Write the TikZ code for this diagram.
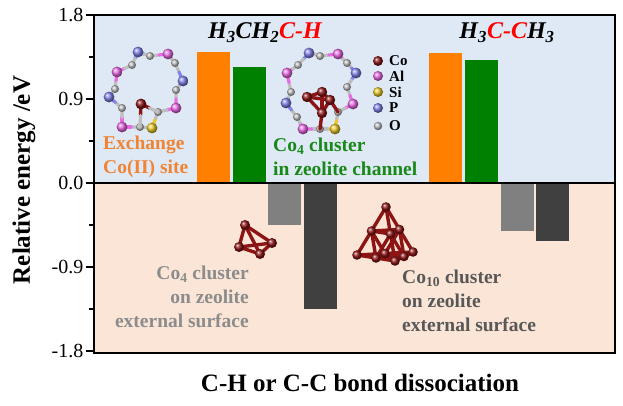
\documentclass[tikz,border=0pt]{standalone}
\usepackage{fontspec}
\setmainfont{Liberation Serif}
\usetikzlibrary{calc}

\definecolor{bgtop}{RGB}{222,233,245}
\definecolor{bgbot}{RGB}{251,229,214}
\definecolor{barorange}{RGB}{255,128,0}
\definecolor{bargreen}{RGB}{0,128,0}
\definecolor{bargray}{RGB}{128,128,128}
\definecolor{bardark}{RGB}{64,64,64}
\definecolor{txtorange}{RGB}{240,132,52}
\definecolor{txtgreen}{RGB}{24,136,24}
\definecolor{txtgray}{RGB}{140,140,140}
\definecolor{txtdark}{RGB}{88,88,88}
\definecolor{atCo}{RGB}{140,20,20}
\definecolor{atAl}{RGB}{235,105,230}
\definecolor{atSi}{RGB}{235,200,40}
\definecolor{atP}{RGB}{130,130,235}
\definecolor{atO}{RGB}{190,190,190}

\tikzset{
  bond/.style={line width=3.2pt, line cap=round},
  cobond/.style={line width=3.4pt, line cap=round, atCo},
}

\begin{document}
\begin{tikzpicture}[x=1pt,y=-1pt,
  ticklbl/.style={font=\fontsize{20}{20}\selectfont, inner sep=2pt},
  title/.style={font=\bfseries\itshape\fontsize{24}{24}\selectfont},
  lbl/.style={font=\bfseries\fontsize{19.5}{24}\selectfont, inner sep=0pt},
  legend/.style={font=\bfseries\fontsize{15}{15}\selectfont, inner sep=0pt},
  axlbl/.style={font=\bfseries\fontsize{25}{25}\selectfont}]
\useasboundingbox (0,0) rectangle (623,406);
\fill[bgtop] (94,15) rectangle (615,183);
\fill[bgbot] (94,183) rectangle (615,353);

\foreach \x/\v/\c in {197/1.40/barorange, 233/1.24/bargreen, 268/-0.45/bargray, 304/-1.35/bardark,
                      429/1.39/barorange, 465/1.32/bargreen, 501/-0.51/bargray, 536/-0.62/bardark}
  \fill[\c] (\x,183) rectangle ++(33,{-93.3*(\v)});

\draw[line width=1.8pt] (94,15) rectangle (615,353);
\draw[line width=1.8pt] (94,183) -- (615,183);
\foreach \v in {-1.8,-0.9,0.0,0.9,1.8}
  \draw[line width=1.4pt] (94,{183-93.3*(\v)}) -- ++(-8,0) node[left, ticklbl] (tick\v) {\v};
\foreach \v in {-1.35,-0.45,0.45,1.35}
  \draw[line width=1.4pt] (94,{183-93.3*(\v)}) -- ++(-5,0);

\node[axlbl, rotate=90] (ylab) at (24,180) {Relative energy /eV};
\node[axlbl] (xlab) at (360,383) {C-H or C-C bond dissociation};

\node[title] (t1) at (265,33) {H\textsubscript{3}CH\textsubscript{2}\textcolor{red}{C-H}};
\node[title] (t2) at (507,33) {H\textsubscript{3}\textcolor{red}{C-C}H\textsubscript{3}};

% zeolite rings
\foreach \x/\y [count=\i] in {138/52,150/56,168/54,175/63,183/81,176/90,176/108,158/112,
                             152/128,140/127,122/127,122/108,109/97,115/89,117/72,132/65}
  \coordinate (a\i) at (\x,\y);
\foreach \x/\y [count=\i] in {309/53,320/56,338/54,347/63,356/73,347/87,353/104,338/112,
                             335/129,320/129,303/129,297/117,286/103,291/92,287/73,298/65}
  \coordinate (b\i) at (\x,\y);
\foreach \r in {a,b}{
  \foreach \i/\c in {1/atP,2/atO,3/atAl,4/atO,5/atP,6/atO,7/atAl,8/atO,
                     9/atSi,10/atO,11/atAl,12/atO,13/atP,14/atO,15/atAl,16/atO}{
    \pgfmathtruncatemacro\nx{mod(\i,16)+1}
    \pgfmathtruncatemacro\pv{mod(\i+14,16)+1}
    \draw[bond,\c] (\r\i) -- ($(\r\i)!.5!(\r\nx)$) (\r\i) -- ($(\r\i)!.5!(\r\pv)$);
  }
  \foreach \i/\c/\s in {1/atP/5.4,2/atO/4,3/atAl/5.4,4/atO/4,5/atP/5.4,6/atO/4,7/atAl/5.4,8/atO/4,
                        9/atSi/5.4,10/atO/4,11/atAl/5.4,12/atO/4,13/atP/5.4,14/atO/4,15/atAl/5.4,16/atO/4}
    \shade[ball color=\c] (\r\i) circle (\s);
}

% Co(II) in ring a
\coordinate (co) at (141,104);
\draw[cobond] (co) -- ($(co)!.5!(a8)$) (co) -- ($(co)!.5!(a10)$);
\draw[bond,atO] (a8) -- ($(co)!.5!(a8)$) (a10) -- ($(co)!.5!(a10)$);
\shade[ball color=atCo] (co) circle (5.4);

% Co4 in ring b
\coordinate (c1) at (307,97);
\coordinate (c2) at (322,92);
\coordinate (c3) at (330,100);
\coordinate (c4) at (322,113);
\draw[cobond] (c4) -- (b10) (c3) -- (b8);
\foreach \u/\w in {c1/c2,c1/c3,c1/c4,c2/c3,c2/c4,c3/c4}
  \draw[cobond] (\u) -- (\w);
\foreach \u in {c1,c2,c3,c4}
  \shade[ball color=atCo] (\u) circle (5.2);

% legend
\foreach \y/\c/\t/\s in {61/atCo/Co/5,76/atAl/Al/5,92/atSi/Si/5,108/atP/P/5,126/atO/O/4.2}{
  \shade[ball color=\c] (378,\y) circle (\s);
  \node[legend, anchor=west] (lg\t) at (389,\y) {\t};
}

% Co4 on external surface
\coordinate (e1) at (245,225);
\coordinate (e2) at (239,247);
\coordinate (e3) at (272,243);
\coordinate (e4) at (260,254);
\foreach \u/\w in {e1/e2,e1/e3,e1/e4,e2/e3,e2/e4,e3/e4}
  \draw[cobond] (\u) -- (\w);
\foreach \u in {e1,e3,e2,e4}
  \shade[ball color=atCo] (\u) circle (5);

% Co10 on external surface
\coordinate (A) at (386,207);
\coordinate (B) at (357,255);
\coordinate (C) at (395,261);
\coordinate (D) at (413,252);
\coordinate (ab) at ($(A)!.5!(B)$);
\coordinate (ac) at ($(A)!.5!(C)$);
\coordinate (ad) at ($(A)!.5!(D)$);
\coordinate (bc) at ($(B)!.5!(C)$);
\coordinate (bd) at ($(B)!.5!(D)$);
\coordinate (cd) at ($(C)!.5!(D)$);
\foreach \u/\w in {A/ab,ab/B,A/ac,ac/C,A/ad,ad/D,B/bc,bc/C,B/bd,bd/D,C/cd,cd/D,
                   ab/ac,ab/ad,ab/bc,ab/bd,ac/ad,ac/bc,ac/cd,ad/bd,ad/cd,bc/bd,bc/cd,bd/cd}
  \draw[cobond] (\u) -- (\w);
\foreach \u in {bd,A,ad,D,ab,B,ac,cd,bc,C}
  \shade[ball color=atCo] (\u) circle (4.8);

\node[lbl, txtorange, align=left, anchor=west] (exch) at (103,157) {Exchange\\Co(II) site};
\node[lbl, txtgreen, align=left, anchor=west] (chan) at (273,157) {Co\textsubscript{4} cluster\\in zeolite channel};
\node[lbl, txtgray, align=right, anchor=east] (ext4) at (249,297) {Co\textsubscript{4} cluster\\on zeolite\\external surface};
\node[lbl, txtdark, align=left, anchor=west] (ext10) at (402,301) {Co\textsubscript{10} cluster\\on zeolite\\external surface};
\end{tikzpicture}
\end{document}
